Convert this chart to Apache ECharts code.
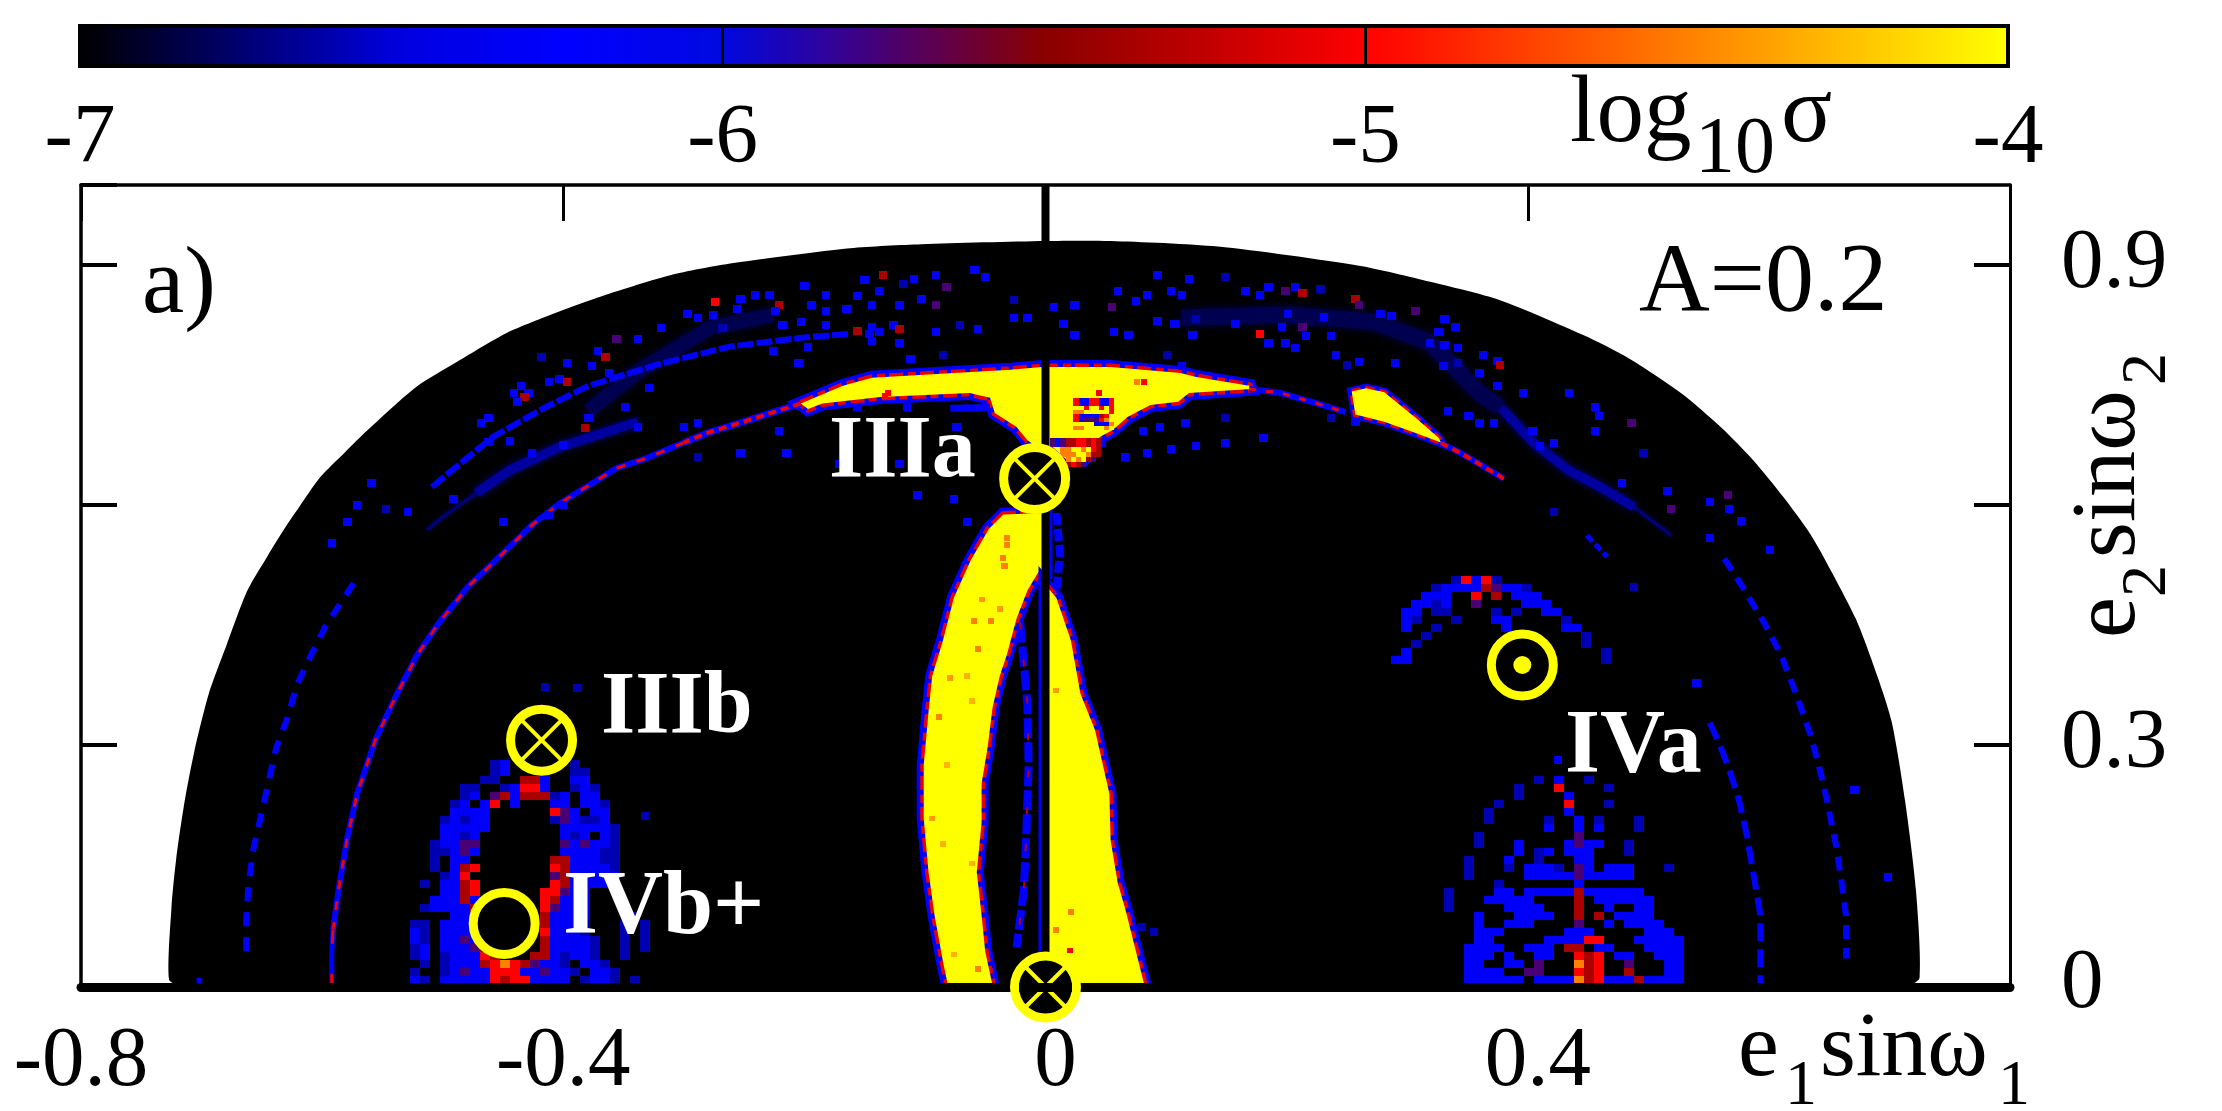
<!DOCTYPE html>
<html>
<head>
<meta charset="utf-8">
<style>html,body{margin:0;padding:0;background:#fff}#c{width:2222px;height:1111px}</style>
<script src="https://cdn.jsdelivr.net/npm/echarts@6/dist/echarts.min.js"></script>
</head>
<body>
<div id="c"></div>
<script>
// ---- tick labels ----
const colorTicks = [-7, -6, -5, -4];
const xTickLabels = {'-0.8': '-0.8', '-0.4': '-0.4', '0': '0', '0.4': '0.4'};
const yTickLabels = {'0': '0', '0.3': '0.3', '0.9': '0.9'};
// ---- colour scale (log10 sigma, evenly spaced from -7 to -4) ----
const colorScale = ['#000000','#000070','#0000e0','#0000ff','#0008e0','#480074','#8a0000','#c00000','#ff0000','#ff4000','#ff8000','#ffc000','#ffff00'];
// ---- cell codes to log10 sigma ----
const levels = {d:-6.6, b:-6.3, p:-5.75, r:-5.35, R:-5.0, o:-4.5, y:-4.0};

// ---- outline of the allowed region (e1 sin w1, e2 sin w2) ----
const domain = [[-0.718,0],[-0.727,0.007],[-0.725,0.096],[-0.721,0.158],[-0.714,0.230],[-0.706,0.292],[-0.694,0.364],[-0.679,0.426],[-0.662,0.493],[-0.645,0.537],[-0.631,0.571],[-0.619,0.5975],[-0.602,0.634],[-0.581,0.666],[-0.562,0.694],[-0.522,0.7475],[-0.488,0.779],[-0.447,0.815],[-0.405,0.841],[-0.368,0.861],[-0.309,0.888],[-0.256,0.903],[-0.162,0.921],[-0.103,0.926],[0,0.930],[0.054,0.930],[0.143,0.923],[0.260,0.899],[0.319,0.879],[0.377,0.856],[0.446,0.8125],[0.482,0.785],[0.527,0.74],[0.560,0.6975],[0.587,0.656],[0.612,0.61],[0.632,0.569],[0.645,0.536],[0.672,0.458],[0.690,0.386],[0.702,0.328],[0.713,0.230],[0.722,0.118],[0.725,0.009],[0.716,0]];

// ---- saturated (yellow) regions ----
const bandTop = [[-0.203,0.727],[-0.168,0.749],[-0.144,0.759],[-0.029,0.769],[-0.003,0.7725],[0.004,0.7725],[0.054,0.7725],[0.112,0.765],[0.125,0.760],[0.169,0.749],[0.170,0.745],[0.119,0.740],[0.110,0.729],[0.087,0.725],[0.068,0.710],[0.056,0.694],[0.045,0.685],[0.039,0.669],[0.031,0.656],[0.018,0.656],[0.006,0.6725],[-0.007,0.6725],[-0.015,0.681],[-0.024,0.6975],[-0.042,0.715],[-0.046,0.734],[-0.063,0.74],[-0.137,0.735],[-0.185,0.727],[-0.197,0.72]];
const bandWedge = [[0.254,0.742],[0.266,0.746],[0.281,0.741],[0.307,0.709],[0.326,0.684],[0.328,0.678],[0.307,0.690],[0.281,0.704],[0.257,0.713]];
const bandLeft = [[-0.035,0.588],[-0.047,0.570],[-0.062,0.531],[-0.076,0.484],[-0.085,0.431],[-0.094,0.386],[-0.097,0.342],[-0.101,0.275],[-0.101,0.208],[-0.097,0.141],[-0.092,0.087],[-0.085,0.029],[-0.081,0],[-0.044,0],[-0.050,0.042],[-0.053,0.087],[-0.057,0.141],[-0.053,0.203],[-0.053,0.252],[-0.048,0.297],[-0.044,0.346],[-0.038,0.386],[-0.032,0.413],[-0.024,0.458],[-0.015,0.493],[-0.006,0.516],[0,0.516],[0,0.59]];
const bandRight = [[0,0.50],[0.009,0.484],[0.021,0.431],[0.029,0.364],[0.041,0.319],[0.053,0.239],[0.054,0.181],[0.060,0.127],[0.066,0.096],[0.072,0.060],[0.082,0],[0,0]];

// ---- thin ridges ----
const ridgeLeftRed = [[-0.300,0.678],[-0.332,0.658],[-0.356,0.646],[-0.403,0.602],[-0.426,0.575],[-0.456,0.531],[-0.479,0.498],[-0.503,0.453],[-0.521,0.413],[-0.538,0.364],[-0.556,0.306],[-0.571,0.239],[-0.579,0.185],[-0.586,0.123],[-0.591,0.069]];
const ridgeLeftFoot = [[-0.591,0.069],[-0.592,0.040],[-0.592,0]];
const ridgeTopLeftTail = [[-0.203,0.727],[-0.259,0.700],[-0.279,0.691],[-0.300,0.678]];
const ridgeTopRightLink = [[0.169,0.745],[0.195,0.740],[0.225,0.727],[0.249,0.716]];
const ridgeWedgeTail = [[0.328,0.678],[0.331,0.675],[0.343,0.666],[0.360,0.651],[0.380,0.633]];
const dashLeftOuter = [[-0.574,0.502],[-0.597,0.449],[-0.609,0.413],[-0.621,0.375],[-0.629,0.333],[-0.638,0.297],[-0.644,0.257],[-0.652,0.203],[-0.657,0.170],[-0.661,0.127],[-0.663,0.080],[-0.663,0.033]];
const dashLeftFoot = [[-0.702,0.009],[-0.702,0]];
const arcUpperLeft = [[-0.509,0.6225],[-0.4585,0.685],[-0.415,0.722],[-0.379,0.749],[-0.321,0.776],[-0.262,0.798],[-0.203,0.809],[-0.162,0.814]];
const streakLeftTail = [[-0.513,0.569],[-0.5,0.585],[-0.472,0.615]];
const streakLeftCore = [[-0.472,0.615],[-0.444,0.644],[-0.403,0.6725],[-0.338,0.704]];
const streakLeftHigh = [[-0.379,0.718],[-0.338,0.767],[-0.279,0.821],[-0.226,0.838]];
const streakRightTail = [[0.519,0.562],[0.510,0.5725],[0.488,0.5975]];
const streakRightCore = [[0.488,0.5975],[0.460,0.6225],[0.433,0.644],[0.405,0.6775],[0.377,0.7225]];
const streakRightWide = [[0.377,0.7225],[0.360,0.740],[0.319,0.803],[0.272,0.829],[0.201,0.838],[0.113,0.834]];
const dashRightOuter = [[0.563,0.533],[0.578,0.498],[0.596,0.453],[0.610,0.413],[0.622,0.366],[0.634,0.315],[0.641,0.277],[0.648,0.232],[0.656,0.172],[0.660,0.132],[0.664,0.086],[0.664,0.033]];
const dashRightInner = [[0.551,0.328],[0.559,0.301],[0.567,0.270],[0.575,0.232],[0.578,0.212],[0.582,0.185],[0.585,0.158],[0.590,0.114],[0.593,0.087],[0.593,0]];
const dashRightTop = [[0.449,0.562],[0.466,0.535]];
const sliverInner = [[-0.021,0.453],[-0.015,0.350],[-0.014,0.275],[-0.016,0.185],[-0.018,0.118],[-0.024,0.047]];
const sliverCenter = [[0.009,0.59],[0.012,0.54],[0.009,0.49]];
const fringeUnderArm = [[-0.079,0.721],[-0.046,0.722]];
const centerLine = [[0,1],[0,0]];

// ---- isolated cells: e1, e2, log10 sigma ----
const scatterLeft = [[-0.059,0.894,-6.3],[-0.091,0.888,-6.3],[-0.135,0.887,-5.35],[-0.150,0.881,-6.3],[-0.109,0.883,-6.3],[-0.050,0.885,-6.3],[-0.118,0.876,-6.6],[-0.138,0.867,-6.3],[-0.082,0.872,-5.75],[-0.156,0.861,-6.3],[-0.182,0.863,-6.3],[-0.200,0.874,-6.3],[-0.241,0.863,-6.3],[-0.229,0.863,-6.3],[-0.274,0.854,-5],[-0.253,0.858,-6.3],[-0.221,0.850,-5.35],[-0.224,0.843,-6.3],[-0.194,0.850,-6.3],[-0.144,0.850,-6.3],[-0.121,0.850,-6.3],[-0.103,0.858,-6.3],[-0.091,0.850,-5.75],[-0.165,0.845,-6.3],[-0.182,0.843,-6.3],[-0.256,0.845,-6.3],[-0.297,0.839,-6.3],[-0.276,0.838,-6.3],[-0.288,0.834,-6.3],[-0.203,0.829,-6.3],[-0.218,0.825,-6.3],[-0.182,0.825,-6.3],[-0.126,0.825,-6.3],[-0.144,0.823,-6.3],[-0.319,0.821,-6.3],[-0.268,0.821,-6.6],[-0.146,0.814,-6.3],[-0.156,0.818,-5.35],[-0.138,0.816,-6.3],[-0.121,0.820,-5.35],[-0.091,0.816,-6.3],[-0.056,0.820,-6.3],[-0.071,0.825,-6.6],[0.015,0.826,-6.3],[-0.026,0.834,-6.3],[-0.026,0.856,-6.6],[0.006,0.847,-6.3],[0.024,0.850,-6.3],[0.024,0.812,-6.3],[-0.015,0.834,-6.3],[-0.121,0.803,-6.3],[-0.144,0.805,-6.3],[-0.197,0.798,-6.3],[-0.226,0.792,-6.3],[-0.112,0.783,-6.3],[-0.085,0.788,-6.6],[-0.205,0.778,-6.3],[-0.338,0.807,-6.3],[-0.356,0.807,-5.75],[-0.371,0.792,-6.3],[-0.365,0.785,-5.35],[-0.397,0.778,-6.3],[-0.376,0.774,-6.3],[-0.418,0.785,-6.6],[-0.362,0.765,-6.3],[-0.403,0.758,-6.3],[-0.397,0.754,-5.35],[-0.412,0.754,-6.3],[-0.435,0.749,-6.3],[-0.429,0.740,-6.3],[-0.441,0.740,-6.3],[-0.432,0.735,-5.35],[-0.438,0.729,-6.3],[-0.329,0.746,-6.3],[-0.349,0.722,-6.3],[-0.379,0.709,-6.3],[-0.462,0.709,-6.3],[-0.468,0.702,-6.3],[-0.382,0.696,-5.35],[-0.338,0.698,-6.3],[-0.300,0.698,-6.3],[-0.288,0.702,-6.3],[-0.444,0.680,-6.3],[-0.462,0.679,-6.3],[-0.426,0.665,-6.3],[-0.400,0.675,-6.3],[-0.288,0.660,-6.6],[-0.253,0.665,-6.3],[-0.215,0.665,-6.3],[-0.221,0.693,-6.3],[-0.156,0.722,-6.3],[-0.115,0.722,-6.3],[-0.074,0.698,-6.3],[-0.106,0.613,-6.3],[-0.076,0.608,-6.3],[-0.065,0.579,-6.3],[-0.121,0.651,-6.3],[-0.171,0.651,-6.3],[-0.491,0.608,-6.3],[-0.571,0.600,-6.3],[-0.559,0.628,-6.3],[-0.579,0.579,-6.3],[-0.547,0.595,-6.6],[-0.529,0.591,-6.3],[-0.592,0.553,-6.3],[-0.400,0.600,-6.3],[-0.412,0.588,-6.3],[-0.450,0.579,-6.3],[-0.415,0.373,-6.6],[-0.388,0.371,-6.6],[-0.332,0.211,-6.6]];
const scatterRight = [[0.093,0.888,-6.3],[0.119,0.882,-6.3],[0.149,0.885,-6.6],[0.104,0.867,-6.3],[0.084,0.863,-6.3],[0.113,0.863,-6.3],[0.166,0.867,-6.3],[0.178,0.863,-6.3],[0.185,0.872,-6.3],[0.199,0.867,-5.75],[0.207,0.872,-6.3],[0.213,0.865,-5.35],[0.228,0.870,-6.6],[0.075,0.855,-6.3],[0.060,0.867,-6.3],[0.055,0.847,-5.75],[0.257,0.858,-5.35],[0.260,0.850,-5.75],[0.278,0.839,-6.3],[0.287,0.836,-6.3],[0.201,0.839,-6.3],[0.231,0.835,-6.3],[0.093,0.830,-6.3],[0.107,0.826,-6.3],[0.125,0.832,-6.6],[0.157,0.826,-6.3],[0.196,0.823,-6.3],[0.213,0.823,-5.75],[0.057,0.816,-6.3],[0.069,0.812,-6.3],[0.122,0.812,-6.3],[0.178,0.814,-5],[0.216,0.811,-6.3],[0.237,0.811,-6.3],[0.307,0.843,-5.75],[0.331,0.832,-6.3],[0.326,0.816,-6.3],[0.340,0.823,-6.3],[0.185,0.803,-6.3],[0.199,0.803,-6.3],[0.207,0.796,-6.3],[0.319,0.803,-6.3],[0.331,0.800,-6.3],[0.342,0.796,-6.3],[0.241,0.788,-6.3],[0.260,0.779,-6.3],[0.250,0.775,-6.6],[0.290,0.778,-6.3],[0.330,0.774,-6.3],[0.363,0.787,-6.3],[0.375,0.780,-6.3],[0.342,0.778,-6.6],[0.360,0.765,-6.3],[0.377,0.775,-5.35],[0.375,0.749,-6.3],[0.101,0.787,-6.6],[0.113,0.774,-6.3],[0.434,0.740,-6.3],[0.396,0.740,-6.3],[0.456,0.722,-6.3],[0.459,0.711,-6.3],[0.351,0.711,-6.3],[0.334,0.718,-6.3],[0.360,0.702,-6.3],[0.372,0.702,-6.3],[0.404,0.693,-6.3],[0.456,0.693,-6.3],[0.486,0.702,-5.75],[0.422,0.678,-6.3],[0.410,0.674,-6.3],[0.478,0.627,-6.3],[0.496,0.665,-6.6],[0.566,0.613,-5.75],[0.551,0.604,-6.3],[0.567,0.595,-6.3],[0.516,0.617,-6.3],[0.519,0.595,-5.75],[0.577,0.580,-6.3],[0.551,0.559,-6.3],[0.601,0.544,-6.3],[0.422,0.591,-6.6],[0.116,0.702,-6.3],[0.095,0.698,-6.3],[0.081,0.693,-6.3],[0.149,0.709,-6.6],[0.181,0.684,-6.3],[0.149,0.678,-6.3],[0.125,0.674,-6.3],[0.104,0.670,-6.3],[0.084,0.665,-6.3],[0.066,0.660,-6.3],[0.257,0.704,-6.3],[0.237,0.709,-6.6],[0.540,0.377,-6.3],[0.671,0.244,-6.3],[0.699,0.135,-6.3],[0.425,0.281,-6.3],[0.488,0.498,-6.6],[0.080,0.072,-6.6],[0.090,0.066,-6.6]];
const hotInBands = [[-0.053,0.482,-4.4],[-0.038,0.470,-4.4],[-0.059,0.455,-4.5],[-0.045,0.455,-4.5],[-0.056,0.420,-4.5],[-0.079,0.384,-4.4],[-0.065,0.386,-4.3],[-0.061,0.355,-4.3],[-0.088,0.335,-4.5],[-0.082,0.275,-4.3],[-0.094,0.208,-4.4],[-0.085,0.176,-4.3],[-0.061,0.152,-4.3],[-0.076,0.038,-4.3],[-0.056,0.020,-4.5],[0.021,0.091,-4.5],[0.009,0.069,-4.5],[0.020,0.043,-5],[0.009,0.368,-4.4],[-0.034,0.524,-4.5],[-0.032,0.559,-4.5],[-0.032,0.550,-4.5],[-0.035,0.534,-4.5],[0.076,0.754,-4.5],[0.082,0.754,-5],[0.044,0.740,-5],[-0.131,0.740,-5],[-0.133,0.736,-5]];

// ---- dense clusters, one string per row from the top, each letter a level code ----
const lobeLeftX0 = -0.5357, lobeLeftTop = 0.281;
const lobeLeftRows = [
".........db......d............",
".........db...b..dd...........",
"........dd..rrb..bb...........",
"......dd..dbRRb..dbd..........",
"......db.prbrrrdb.bb..........",
".....db.bR.b...bb.bbd.........",
".....bbbb......Rpb.bb.........",
"....dbdbb......dpbddb.........",
"....bbbbb.......bbbbbd........",
"....bbdb........bdb.bd........",
"...dbbpp........pbpbbd........",
"...ddbpb........bbbbdd........",
"...d.bb........rrbbbdd........",
"...d.brR.......Rrbbbbd........",
"....dbR........prbbbbb........",
"..d.bbrR.......Rrbbbb.........",
"....bbrR......RRpbb...........",
"...bbbrb......Rrbbb...........",
"..dbbbbr......Rpbbb...........",
".....bbb......rbbbb....d......",
".dd.bbbb......rbbbd...d.d.....",
".bd.bbbb......Rbbbd...d.d.....",
".bd.bbpb......rbbbbd..d.d.....",
".db.bbbpr.....rbbbbd..d.d.....",
".db.dbbbRr...rrbdbbd..d.......",
"..d.dbbbrRoRrpbbd.bbd.........",
".d..dbpbbRRRbbpbbd.bbd........",
".bd.bbbbbRrRRbbbb.dbbd.d......"];
const lobeRightX0 = 0.3307, lobeRightTop = 0.261;
const lobeRightRows = [
".........d.b..d.........",
".......d...R....d.......",
".......d....b...........",
".....d......R...d.......",
"....d.......b...........",
"....d.....d..b.d...d....",
"..........b..b.b...d....",
"...d.........p..........",
"...d...b....bpbb..d.....",
".......b.db.bbb...d.....",
"..d...b..d...bb.........",
"..d...d.bbbd.pb.bbb...d.",
"..d.....bbbbbpbbbbb.....",
".....d.......b..........",
"d....bb.bbbbbrbbbbbb....",
"d...bbbbb....r.bbbbbb...",
"d.....bbbb...r..b..bb...",
"...b...bbbb..r.r.bbbb...",
"...b..bbb....p..b.bbbb..",
"...bbb......bbb.....bbb.",
"...bb.....bbbbRR...bbbbb",
"..bbbb..bbb.rr.bb...bbbb",
"..bbb.b..bb..RrR.bb..bbb",
"..bb..bb.p...orR..p...bb",
"..bbbb..pp...RrR..r...bb",
"..bbbbbb.bbbborRbbbrbbbb"];
const arcIVaX0 = 0.2867, arcIVaTop = 0.511;
const arcIVaRows = [
"......dRbRd...........",
"....dbbbbrpbbd........",
"...bbb..R.r.bbb.......",
"..bbdb..p....bbb......",
".bb.dd....d.d..bb.....",
".bd...d...bb.....d....",
".b..d......b.....bb...",
"...d...............d..",
"..d................d..",
".b...................d",
"bb...................d"];
const stemHoleX0 = 0.0232, stemHoleTop = 0.734;
const stemHoleRows = ["RbbRRbbR","RbbRRbbR","yyR..RyR","ooyyyyyR","RbbbbrRy","RbpppRoy","yyyybbbo","ooyyyyoy"];
const stemFootX0 = 0.004, stemFootTop = 0.684;
const stemFootRows = ["pbprrRRrRrb","pbprrRRrRrb","..ooyyoyRr.","..oooyyorr.","...oyoyrp..","...rRrp...."];

// ---- marked points: e1, e2, kind ----
const markerPoints = [[-0.009,0.633,'cross'],[-0.418,0.306,'cross'],[-0.449,0.077,'ring'],[0.3955,0.400,'dot'],[0,-0.0025,'crossAxis']];

// ---- build cells from the tables ----
function rowsToCells(rows, x0, top, dx, dy) {
  const out = [];
  rows.forEach((row, r) => {
    for (let c = 0; c < row.length; c++) {
      const ch = row[c];
      if (levels[ch] !== undefined) out.push([x0 + c * dx, top - (r + 1) * dy, levels[ch], dx, dy]);
    }
  });
  return out;
}
const singleCells = (list, w, h) => list.map(p => [p[0] - w / 2, p[1] - h / 2, p[2], w, h]);
const cells = [].concat(
  rowsToCells(lobeLeftRows, lobeLeftX0, lobeLeftTop, 0.0083, 0.01),
  rowsToCells(lobeRightRows, lobeRightX0, lobeRightTop, 0.0083, 0.01),
  rowsToCells(arcIVaRows, arcIVaX0, arcIVaTop, 0.0083, 0.01),
  rowsToCells(stemHoleRows, stemHoleX0, stemHoleTop, 0.0042, 0.005),
  rowsToCells(stemFootRows, stemFootX0, stemFootTop, 0.0042, 0.006),
  singleCells(scatterLeft, 0.007, 0.01),
  singleCells(scatterRight, 0.007, 0.01),
  singleCells(hotInBands, 0.005, 0.007)
);

const serif = '"Liberation Serif","Times New Roman",serif';
const AX = {xAxisIndex: 0, yAxisIndex: 0};

function polySeries(points, fillColor, edges, z, smooth) {
  return Object.assign({
    type: 'custom', z, silent: true, clip: false, animation: false,
    data: [[0, 0]],
    renderItem(params, api) {
      const pts = points.map(p => api.coord(p));
      const shape = {points: pts, smooth: smooth || 0};
      const children = edges.map(e => ({type: 'polygon', shape, style: {fill: 'none', stroke: e[0], lineWidth: e[1], lineJoin: 'miter', lineDash: e[2] || null}}));
      children.push({type: 'polygon', shape, style: {fill: fillColor}});
      return {type: 'group', children};
    }
  }, AX);
}
function lineSeries(data, color, width, dash, z, extra) {
  return Object.assign({
    type: 'line', data, showSymbol: false, silent: true, animation: false, z, clip: false,
    lineStyle: Object.assign({color, width, type: dash || 'solid', cap: 'butt', join: 'miter'}, extra || {})
  }, AX);
}
const blue = '#0000ff', red = '#f00000';
const bandEdges = [[blue, 14], ['#e80000', 7, [14, 5, 8, 4]]];
const wedgeEdges = [[blue, 9], ['#e80000', 5, [9, 5]]];

const option = {
  animation: false,
  backgroundColor: '#fff',
  grid: [
    {left: 81, top: 185, width: 1929, height: 800, show: false},
    {left: 80, top: 26, width: 1928, height: 40, show: true, borderColor: '#000', borderWidth: 4, backgroundColor: 'transparent', z: 6}
  ],
  xAxis: [
    {type: 'value', gridIndex: 0, min: -0.8, max: 0.8, interval: 0.4, position: 'bottom', offset: 2.5, z: 20,
     axisLine: {onZero: false, lineStyle: {color: '#000', width: 9}}, axisTick: {show: false}, splitLine: {show: false},
     axisLabel: {color: '#000', fontFamily: serif, fontSize: 85, margin: 33, showMaxLabel: false,
       formatter: v => {
         const t = xTickLabels[String(Math.round(v * 10) / 10)];
         if (t === undefined) return '';
         return v >= 0 ? '{s|' + t + '}' : t;
       },
       rich: {s: {fontFamily: serif, fontSize: 85, color: '#000', padding: [0, 0, 0, 20]}}}},
    {type: 'value', gridIndex: 0, min: -0.8, max: 0.8, interval: 0.4, position: 'top', z: 20,
     axisLine: {onZero: false, lineStyle: {color: '#000', width: 3.5}}, axisTick: {inside: true, length: 36, lineStyle: {color: '#000', width: 3}},
     axisLabel: {show: false}, splitLine: {show: false}},
    {type: 'value', gridIndex: 1, min: -7, max: -4, interval: 1, position: 'bottom', z: 20,
     axisLine: {show: false, onZero: false}, axisTick: {inside: true, length: 38, lineStyle: {color: '#000', width: 3}},
     axisLabel: {color: '#000', fontFamily: serif, fontSize: 85, margin: 31, formatter: v => colorTicks.includes(v) ? String(v) : ''}, splitLine: {show: false}}
  ],
  yAxis: [
    {type: 'value', gridIndex: 0, min: 0, max: 1, interval: 0.3, position: 'left', z: 20,
     axisLine: {onZero: false, lineStyle: {color: '#000', width: 3.5}}, axisTick: {inside: true, length: 36, lineStyle: {color: '#000', width: 4}},
     axisLabel: {show: false}, splitLine: {show: false}},
    {type: 'value', gridIndex: 0, min: 0, max: 1, interval: 0.3, position: 'right', z: 20,
     axisLine: {onZero: false, lineStyle: {color: '#000', width: 3}}, axisTick: {inside: true, length: 36, lineStyle: {color: '#000', width: 4}},
     axisLabel: {color: '#000', fontFamily: serif, fontSize: 85, margin: 51, showMaxLabel: false,
       formatter: v => { const t = yTickLabels[String(Math.round(v * 10) / 10)]; return t === undefined ? '' : t; }},
     splitLine: {show: false}},
    {type: 'value', gridIndex: 1, min: 0, max: 1, show: false}
  ],
  visualMap: {
    type: 'continuous', seriesIndex: 0, dimension: 2, min: -7, max: -4, orient: 'horizontal',
    left: 80, top: 26, itemWidth: 40, itemHeight: 1928, padding: 0, text: null, calculable: false,
    showLabel: false, hoverLink: false, z: 1, inRange: {color: colorScale}, textStyle: {fontSize: 0}
  },
  series: [
    Object.assign({
      type: 'custom', z: 4, silent: true, animation: false, clip: false, data: cells,
      dimensions: ['x', 'y', 'v', 'w', 'h'], encode: {x: 0, y: 1},
      renderItem(params, api) {
        const a = api.coord([api.value(0), api.value(1)]);
        const b = api.coord([api.value(0) + api.value(3), api.value(1) + api.value(4)]);
        const x = Math.round(a[0]), y = Math.round(b[1]);
        return {type: 'rect', shape: {x, y, width: Math.round(b[0]) - x, height: Math.round(a[1]) - y}, style: {fill: api.visual('color')}};
      }
    }, AX),
    polySeries(domain, '#000', [], 1, 0.25),
    lineSeries(streakLeftTail, '#000078', 3, 'solid', 2, {shadowBlur: 4, shadowColor: '#000078'}),
    lineSeries(streakLeftCore, '#0000a0', 9, 'solid', 2, {shadowBlur: 7, shadowColor: '#000090'}),
    lineSeries(streakLeftHigh, '#000050', 14, 'solid', 2, {shadowBlur: 8, shadowColor: '#000050'}),
    lineSeries(streakRightTail, '#000078', 3, 'solid', 2, {shadowBlur: 4, shadowColor: '#000078'}),
    lineSeries(streakRightCore, '#0000a0', 9, 'solid', 2, {shadowBlur: 7, shadowColor: '#000090'}),
    lineSeries(streakRightWide, '#000050', 16, 'solid', 2, {shadowBlur: 10, shadowColor: '#000050'}),
    lineSeries(arcUpperLeft, blue, 6, [16, 3], 3),
    lineSeries(ridgeLeftRed, blue, 6, 'solid', 3),
    lineSeries(ridgeLeftRed, red, 3, [9, 12], 3),
    lineSeries(ridgeLeftFoot, blue, 5, 'solid', 3),
    lineSeries(ridgeLeftFoot, red, 3, [14, 30], 3),
    lineSeries(ridgeTopLeftTail, blue, 7, 'solid', 3),
    lineSeries(ridgeTopLeftTail, red, 4, [8, 5], 3),
    lineSeries(ridgeTopRightLink, blue, 6, 'solid', 3),
    lineSeries(ridgeTopRightLink, red, 3, [7, 10], 3),
    lineSeries(ridgeWedgeTail, blue, 6, 'solid', 3),
    lineSeries(ridgeWedgeTail, red, 4, [8, 5], 3),
    lineSeries(dashLeftOuter, blue, 6, [14, 11], 3),
    lineSeries(dashLeftFoot, blue, 5, 'solid', 3),
    lineSeries(dashRightOuter, blue, 6, [14, 9], 3),
    lineSeries(dashRightInner, blue, 6, [18, 8], 3),
    lineSeries(dashRightTop, blue, 5, [8, 4], 3),
    lineSeries(sliverInner, blue, 8, [20, 4], 3),
    lineSeries(sliverInner, '#b00010', 2, [7, 30], 3),
    lineSeries(sliverCenter, blue, 8, [12, 4], 3),
    lineSeries(fringeUnderArm, blue, 7, 'solid', 3),
    polySeries(bandTop, '#ffff00', bandEdges, 3),
    polySeries(bandWedge, '#ffff00', wedgeEdges, 3),
    polySeries(bandLeft, '#ffff00', bandEdges, 3),
    polySeries(bandRight, '#ffff00', bandEdges, 3),
    lineSeries(centerLine, '#000', 8, 'solid', 8),
    Object.assign({
      type: 'custom', z: 30, silent: true, animation: false, clip: false, data: markerPoints,
      encode: {x: 0, y: 1},
      dimensions: ['x', 'y', {name: 'kind', type: 'ordinal'}],
      renderItem(params, api) {
        const c = api.coord([api.value(0), api.value(1)]);
        const kind = markerPoints[params.dataIndex][2];
        const ch = [{type: 'circle', shape: {cx: c[0], cy: c[1], r: 31}, style: {fill: '#000', stroke: '#ffff00', lineWidth: 9}}];
        if (kind === 'cross' || kind === 'crossAxis') {
          ch.push({type: 'line', shape: {x1: c[0] - 20, y1: c[1] - 20, x2: c[0] + 20, y2: c[1] + 20}, style: {stroke: '#ffff00', lineWidth: 4}});
          ch.push({type: 'line', shape: {x1: c[0] - 20, y1: c[1] + 20, x2: c[0] + 20, y2: c[1] - 20}, style: {stroke: '#ffff00', lineWidth: 4}});
        }
        if (kind === 'crossAxis') {
          ch.push({type: 'rect', shape: {x: c[0] - 26.5, y: c[1] - 4, width: 53, height: 9}, style: {fill: '#000'}});
        }
        if (kind === 'dot') {
          ch.push({type: 'circle', shape: {cx: c[0], cy: c[1], r: 9}, style: {fill: '#ffff00'}});
        }
        return {type: 'group', children: ch};
      }
    }, AX),
    {type: 'custom', xAxisIndex: 2, yAxisIndex: 2, data: [], renderItem() { return null; }}
  ],
  graphic: {
    elements: [
      ['a)', 142, 316, 95, 'normal', '#000', 0],
      ['A=0.2', 1639, 314, 98, 'normal', '#000', 0],
      ['IIIa', 829, 480, 88, 'bold', '#fff', 0],
      ['IIIb', 601, 736, 88, 'bold', '#fff', 0],
      ['IVb+', 563, 937, 90, 'bold', '#fff', 0],
      ['IVa', 1565, 776, 90, 'bold', '#fff', 0],
      ['log', 1570, 145, 95, 'normal', '#000', 0],
      ['10', 1695, 175, 80, 'normal', '#000', 0],
      ['σ', 1781, 145, 95, 'normal', '#000', 0],
      ['e', 1738, 1078, 92, 'normal', '#000', 0],
      ['1', 1785, 1106, 64, 'normal', '#000', 0],
      ['sinω', 1820, 1078, 92, 'normal', '#000', 0],
      ['1', 1998, 1106, 64, 'normal', '#000', 0],
      ['e', 2137, 638, 92, 'normal', '#000', Math.PI / 2],
      ['2', 2167, 597, 64, 'normal', '#000', Math.PI / 2],
      ['sinω', 2137, 558, 92, 'normal', '#000', Math.PI / 2],
      ['2', 2167, 385, 64, 'normal', '#000', Math.PI / 2]
    ].map(t => {
      const drop = 0.2 * t[3];
      return {
        type: 'text', x: t[1] + (t[6] ? drop : 0), y: t[2] + (t[6] ? 0 : drop), rotation: t[6], z: 100, silent: true,
        style: {text: t[0], fill: t[5], font: t[4] + ' ' + t[3] + 'px ' + serif, align: 'left', verticalAlign: 'bottom'}
      };
    })
  }
};
const chart = echarts.init(document.getElementById('c'), null, {renderer: 'canvas', width: 2222, height: 1111});
chart.setOption(option);
</script>
</body>
</html>
